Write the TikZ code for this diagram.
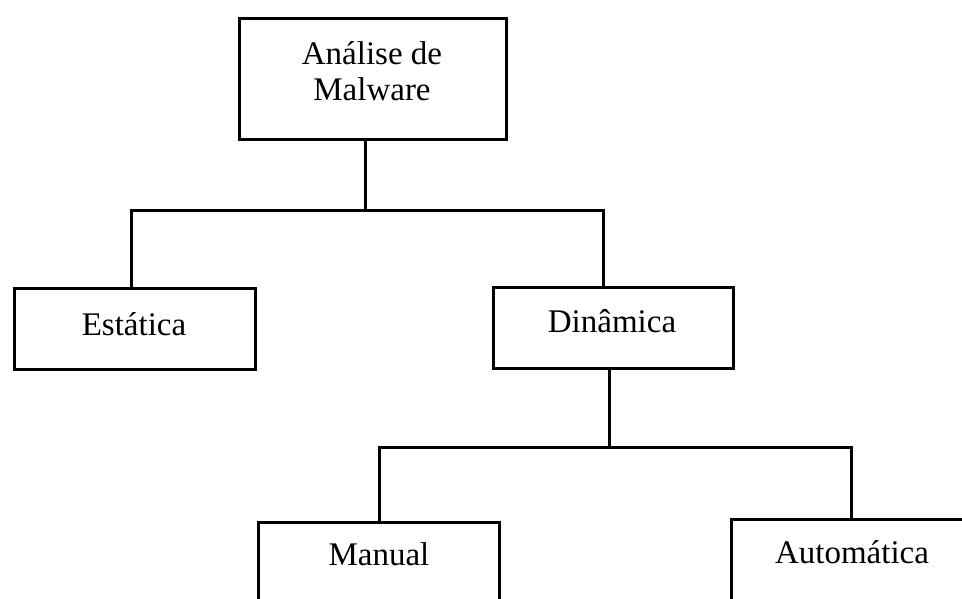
\documentclass[tikz,border=0pt]{standalone}
\usepackage{fontspec}
\setmainfont{Liberation Serif}
\begin{document}
\begin{tikzpicture}[x=1pt,y=1pt,
  box/.style={draw=black,line width=3pt,rectangle,inner sep=0pt,anchor=north west,
    font=\fontsize{33}{36}\selectfont,align=center},
  label/.style={font=\fontsize{33}{36}\selectfont,align=center},
  link/.style={draw=black,line width=3pt,line join=miter}]
\useasboundingbox (0,0) rectangle (962,-598);
\clip (0,0) rectangle (962,-598);
\fill[white] (0,0) rectangle (962,-598);
% boxes
\node[box,minimum width=267pt,minimum height=121pt] (top) at (238,-17) {};
\node[label] (toptxt) at (372,-71) {Análise de\\Malware};
\node[box,minimum width=241pt,minimum height=81pt] (est) at (13,-287) {};
\node[label] (esttxt) at (134,-324) {Estática};
\node[box,minimum width=240pt,minimum height=81pt] (din) at (492,-286) {};
\node[label] (dintxt) at (612,-321) {Dinâmica};
\node[box,minimum width=241pt,minimum height=90pt] (man) at (257,-521) {};
\node[label] (mantxt) at (379,-554) {Manual};
\node[box,minimum width=244pt,minimum height=90pt] (aut) at (730,-518) {};
\node[label] (auttxt) at (852,-552) {Automática};
% junctions
\coordinate (j1) at (365,-210);
\coordinate (j1l) at (131.5,-210);
\coordinate (j1r) at (603,-210);
\coordinate (j2) at (609,-447);
\coordinate (j2l) at (379,-447);
\coordinate (j2r) at (851,-447);
% connectors
\draw[link] (top.south -| j1) -- (j1);
\draw[link] (est.north -| j1l) -- (j1l) -- (j1r) -- (din.north -| j1r);
\draw[link] (din.south -| j2) -- (j2);
\draw[link] (man.north -| j2l) -- (j2l) -- (j2r) -- (aut.north -| j2r);
\end{tikzpicture}
\end{document}
